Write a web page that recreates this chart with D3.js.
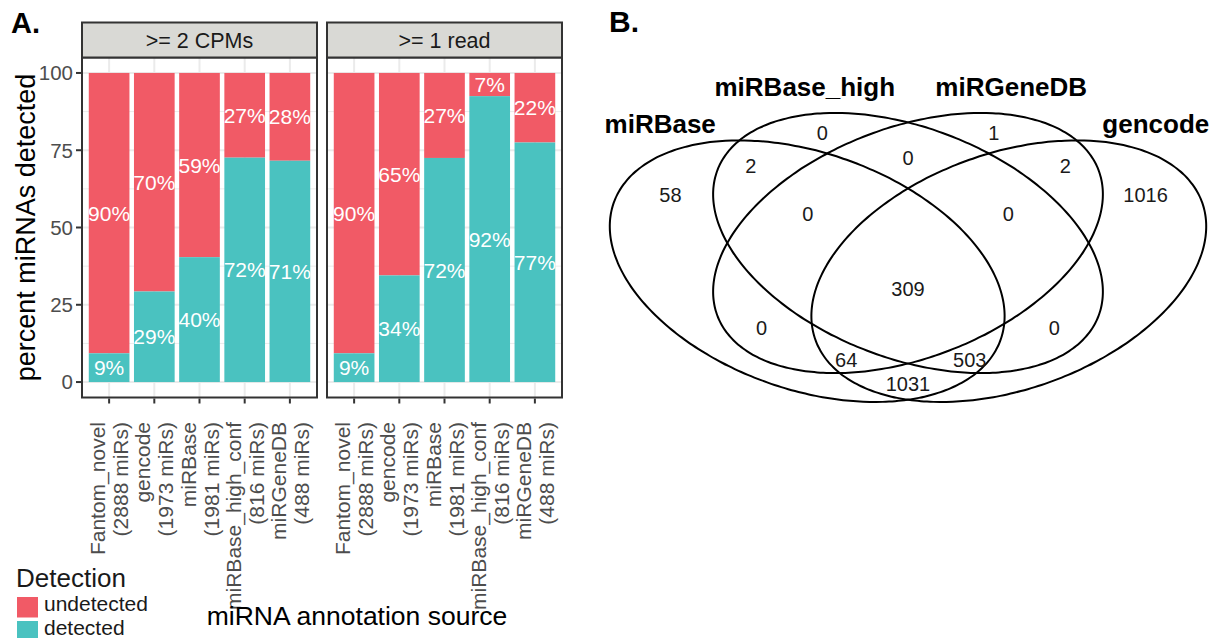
<!DOCTYPE html>
<html>
<head>
<meta charset="utf-8">
<script src="https://cdn.jsdelivr.net/npm/d3@7"></script>
<style>
  body { margin: 0; background: #fff; }
  svg { display: block; font-family: "Liberation Sans", Arial, Helvetica, sans-serif; }
</style>
</head>
<body>
<svg id="chart_svg" width="1220" height="638"></svg>
<script>
// ---- panel A data ----
var categories = ["Fantom_novel", "gencode", "miRBase", "miRBase_high_conf", "miRGeneDB"];
var mirCounts = [2888, 1973, 1981, 816, 488];
var facets = [">= 2 CPMs", ">= 1 read"];
var detected_cpm = [9.3, 29.3, 40.4, 72.6, 71.6];   // percent detected, >= 2 CPMs
var detected_read = [9.3, 34.5, 72.5, 92.5, 77.5];  // percent detected, >= 1 read
var yTicks = [0, 25, 50, 75, 100];
var yMinor = [12.5, 37.5, 62.5, 87.5];
var detectionLevels = ["undetected", "detected"];
var detectionColors = ["#F15A66", "#4AC2C0"];

// ---- panel B data ----
var vennSets = ["miRBase", "miRBase_high", "miRGeneDB", "gencode"];
var vennCounts = [0, 1, 0, 2, 2, 58, 1016, 0, 0, 309, 0, 0, 64, 503, 1031];

// venn layout (unit square, y up) - ellipses and where the region counts sit
var vennEllipses = [
  { cx: 0.332, cy: 0.248, a: 0.342, b: 0.197, angle: -19.5 },
  { cx: 0.500, cy: 0.295, a: 0.340, b: 0.192, angle: -21 },
  { cx: 0.500, cy: 0.295, a: 0.340, b: 0.192, angle: 21 },
  { cx: 0.668, cy: 0.248, a: 0.342, b: 0.197, angle: 19.5 }
];
var vennLabelPos = [
  [0.357, 0.478], [0.643, 0.478], [0.5, 0.437], [0.238, 0.423], [0.762, 0.423],
  [0.104, 0.375], [0.896, 0.375], [0.333, 0.343], [0.667, 0.343], [0.5, 0.218],
  [0.256, 0.154], [0.744, 0.154], [0.397, 0.1], [0.603, 0.1], [0.5, 0.061]
];
var vennSetPos = [[0.087, 0.479], [0.328, 0.54], [0.672, 0.54], [0.913, 0.479]];

var svg = d3.select("#chart_svg");

const panelLeft = [82, 327];
const panelWidth = 235;
const stripTop = 22.5, panelTop = 57.5, panelBottom = 397.5;

var yScale = d3.scaleLinear().domain([-5, 105]).range([panelBottom, panelTop]);

function plotFacet(idx, values) {
  const x0 = panelLeft[idx];
  const xScale = d3.scaleBand()
    .domain(categories)
    .range([x0, x0 + panelWidth])
    .paddingInner(0.1)
    .paddingOuter(0.15);
  const centre = d => xScale(d) + xScale.bandwidth() / 2;

  const g = svg.append("g").attr("class", "facet-" + idx);

  // background + grid
  g.append("rect")
    .attr("x", x0).attr("y", panelTop)
    .attr("width", panelWidth).attr("height", panelBottom - panelTop)
    .attr("fill", "#fff");
  g.selectAll(".minor")
    .data(yMinor).join("line")
    .attr("x1", x0).attr("x2", x0 + panelWidth)
    .attr("y1", d => yScale(d)).attr("y2", d => yScale(d))
    .attr("stroke", "#EBEBEB").attr("stroke-width", 1);
  g.selectAll(".major")
    .data(yTicks).join("line")
    .attr("x1", x0).attr("x2", x0 + panelWidth)
    .attr("y1", d => yScale(d)).attr("y2", d => yScale(d))
    .attr("stroke", "#EBEBEB").attr("stroke-width", 2);
  g.selectAll(".vgrid")
    .data(categories).join("line")
    .attr("x1", centre).attr("x2", centre)
    .attr("y1", panelTop).attr("y2", panelBottom)
    .attr("stroke", "#EBEBEB").attr("stroke-width", 2);

  // stacked bars: detected at bottom, undetected on top
  const rows = categories.map((c, i) => ({ key: c, det: values[i] }));
  g.selectAll(".bar-un")
    .data(rows).join("rect")
    .attr("x", d => xScale(d.key))
    .attr("y", yScale(100))
    .attr("width", xScale.bandwidth())
    .attr("height", d => yScale(d.det) - yScale(100))
    .attr("fill", detectionColors[0]);
  g.selectAll(".bar-det")
    .data(rows).join("rect")
    .attr("x", d => xScale(d.key))
    .attr("y", d => yScale(d.det))
    .attr("width", xScale.bandwidth())
    .attr("height", d => yScale(0) - yScale(d.det))
    .attr("fill", detectionColors[1]);

  // percent labels in the middle of each segment
  g.selectAll(".lab-un")
    .data(rows).join("text")
    .attr("x", d => centre(d.key))
    .attr("y", d => yScale((d.det + 100) / 2))
    .attr("dy", "0.36em")
    .attr("text-anchor", "middle")
    .attr("fill", "#fff")
    .style("font-size", "21px")
    .text(d => Math.floor(100 - d.det) + "%");
  g.selectAll(".lab-det")
    .data(rows).join("text")
    .attr("x", d => centre(d.key))
    .attr("y", d => yScale(d.det / 2))
    .attr("dy", "0.36em")
    .attr("text-anchor", "middle")
    .attr("fill", "#fff")
    .style("font-size", "21px")
    .text(d => Math.floor(d.det) + "%");

  // panel border
  g.append("rect")
    .attr("x", x0).attr("y", panelTop)
    .attr("width", panelWidth).attr("height", panelBottom - panelTop)
    .attr("fill", "none").attr("stroke", "#333").attr("stroke-width", 2);

  // strip
  g.append("rect")
    .attr("x", x0).attr("y", stripTop)
    .attr("width", panelWidth).attr("height", panelTop - stripTop)
    .attr("fill", "#D9D9D5").attr("stroke", "#333").attr("stroke-width", 2);
  g.append("text")
    .attr("x", x0 + panelWidth / 2)
    .attr("y", (stripTop + panelTop) / 2)
    .attr("dy", "0.36em")
    .attr("text-anchor", "middle")
    .attr("fill", "#1A1A1A")
    .style("font-size", "21.5px")
    .text(facets[idx]);

  // x axis ticks + two line labels
  g.selectAll(".xtick")
    .data(categories).join("line")
    .attr("x1", centre).attr("x2", centre)
    .attr("y1", panelBottom + 1).attr("y2", panelBottom + 6)
    .attr("stroke", "#333").attr("stroke-width", 2);
  const lab = g.selectAll(".xlab")
    .data(rows).join("g")
    .attr("transform", d => `translate(${centre(d.key)}, 422) rotate(-90)`);
  lab.append("text")
    .attr("y", -11.5)
    .attr("dy", "0.36em")
    .attr("text-anchor", "end")
    .attr("fill", "#4D4D4D")
    .style("font-size", "21px")
    .text(d => d.key);
  lab.append("text")
    .attr("y", 11.5)
    .attr("dy", "0.36em")
    .attr("text-anchor", "end")
    .attr("fill", "#4D4D4D")
    .style("font-size", "21px")
    .text((d, i) => "(" + mirCounts[i] + " miRs)");
}

plotFacet(0, detected_cpm);
plotFacet(1, detected_read);

// y axis on the first facet
svg.selectAll(".ytick")
  .data(yTicks).join("line")
  .attr("x1", panelLeft[0] - 6).attr("x2", panelLeft[0] - 1)
  .attr("y1", d => yScale(d)).attr("y2", d => yScale(d))
  .attr("stroke", "#333").attr("stroke-width", 2);
svg.selectAll(".ylab")
  .data(yTicks).join("text")
  .attr("x", panelLeft[0] - 9)
  .attr("y", d => yScale(d))
  .attr("dy", "0.36em")
  .attr("text-anchor", "end")
  .attr("fill", "#4D4D4D")
  .style("font-size", "20.5px")
  .text(d => d);

svg.append("text")
  .attr("transform", `translate(35, ${(panelTop + panelBottom) / 2}) rotate(-90)`)
  .attr("text-anchor", "middle")
  .style("font-size", "27px")
  .text("percent miRNAs detected");

svg.append("text")
  .attr("x", 357)
  .attr("y", 625)
  .attr("text-anchor", "middle")
  .style("font-size", "26.5px")
  .text("miRNA annotation source");

// legend
svg.append("text")
  .attr("x", 16).attr("y", 587)
  .style("font-size", "26px")
  .attr("fill", "#1A1A1A")
  .text("Detection");
var legendItem = svg.selectAll(".legend-item")
  .data(detectionLevels).join("g")
  .attr("transform", (d, i) => `translate(17, ${597 + i * 24})`);
legendItem.append("rect")
  .attr("width", 21).attr("height", 20.5)
  .attr("fill", (d, i) => detectionColors[i]);
legendItem.append("text")
  .attr("x", 27).attr("y", 6.5)
  .attr("dy", "0.36em")
  .attr("fill", "#1A1A1A")
  .style("font-size", "21px")
  .text(d => d);

// panel tags
svg.append("text").attr("x", 11).attr("y", 32.5)
  .style("font-size", "29px").style("font-weight", "bold").text("A.");
svg.append("text").attr("x", 609).attr("y", 32)
  .style("font-size", "30px").style("font-weight", "bold").text("B.");

// ---- venn diagram ----
var vx = d3.scaleLinear().domain([0, 1]).range([608, 1208]);
var vy = d3.scaleLinear().domain([0, 1]).range([420, -180]);

function ellipsePoints(e) {
  const th = e.angle * Math.PI / 180;
  return d3.range(0, 360, 2).map(t => {
    const r = t * Math.PI / 180;
    const u = e.a * Math.cos(r), v = e.b * Math.sin(r);
    return [e.cx + u * Math.cos(th) - v * Math.sin(th),
            e.cy + u * Math.sin(th) + v * Math.cos(th)];
  });
}
var ellipseLine = d3.line()
  .x(d => vx(d[0]))
  .y(d => vy(d[1]))
  .curve(d3.curveCardinalClosed);

svg.selectAll(".venn-ellipse")
  .data(vennEllipses).join("path")
  .attr("d", d => ellipseLine(ellipsePoints(d)))
  .attr("fill", "none")
  .attr("stroke", "#000")
  .attr("stroke-width", 2);

svg.selectAll(".venn-count")
  .data(vennCounts).join("text")
  .attr("x", (d, i) => vx(vennLabelPos[i][0]))
  .attr("y", (d, i) => vy(vennLabelPos[i][1]))
  .attr("dy", "0.36em")
  .attr("text-anchor", "middle")
  .attr("fill", "#1A1A1A")
  .style("font-size", "20px")
  .text(d => d);

svg.selectAll(".venn-set")
  .data(vennSets).join("text")
  .attr("x", (d, i) => vx(vennSetPos[i][0]))
  .attr("y", (d, i) => vy(vennSetPos[i][1]))
  .attr("text-anchor", "middle")
  .style("font-size", "26px")
  .style("font-weight", "bold")
  .text(d => d);
</script>
</body>
</html>
